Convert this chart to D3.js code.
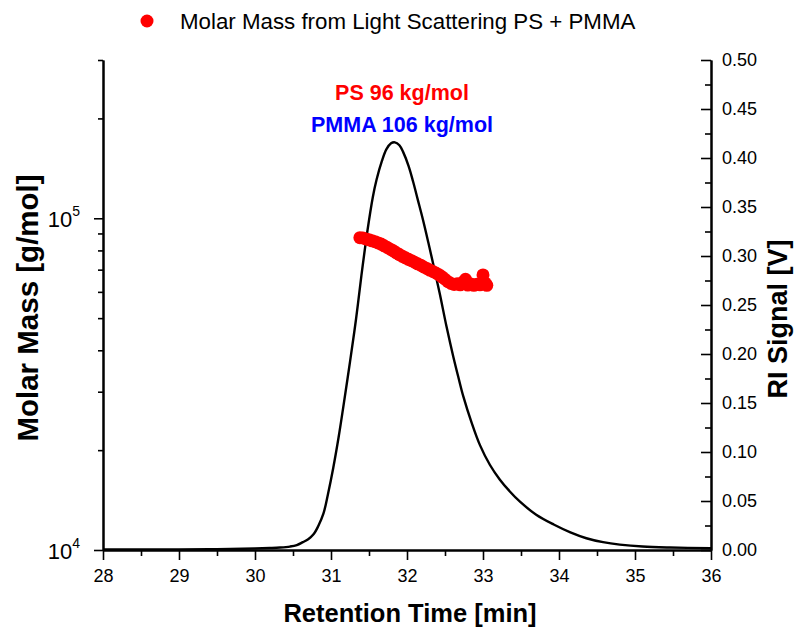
<!DOCTYPE html>
<html><head><meta charset="utf-8">
<script src="https://cdn.jsdelivr.net/npm/d3@7"></script>
<style>
html,body{margin:0;padding:0;background:#fff;}
svg{display:block;font-family:"Liberation Sans",Arial,sans-serif;}
</style></head>
<body><svg id="chart" width="794" height="632"></svg>
<script>
// ---- data ----
const riTime = [28.0,28.5,29.0,29.5,30.0,30.2,30.33,30.46,30.55,30.63,30.70,30.77,30.83,30.90,30.96,31.03,31.10,31.16,31.25,31.33,31.40,31.48,31.55,31.60,31.67,31.73,31.79,31.84,31.90,31.95,32.02,32.08,32.14,32.21,32.28,32.35,32.43,32.52,32.61,32.68,32.74,32.85,32.96,33.09,33.22,33.35,33.49,33.70,33.93,34.15,34.36,34.58,34.80,35.10,35.46,36.0];
const riSignal = [0.0005,0.0005,0.0006,0.0008,0.0015,0.002,0.0025,0.0035,0.005,0.008,0.011,0.016,0.024,0.037,0.057,0.084,0.115,0.145,0.192,0.236,0.280,0.326,0.360,0.378,0.397,0.409,0.415,0.416,0.413,0.406,0.392,0.376,0.358,0.337,0.314,0.290,0.262,0.228,0.197,0.175,0.157,0.130,0.107,0.087,0.072,0.060,0.049,0.036,0.026,0.018,0.012,0.008,0.0055,0.0035,0.0025,0.0018];
const lsTime = [31.38,31.42,31.46,31.50,31.54,31.58,31.62,31.66,31.70,31.74,31.78,31.82,31.86,31.90,31.94,31.98,32.02,32.06,32.10,32.14,32.18,32.22,32.26,32.30,32.34,32.38,32.42,32.46,32.50,32.54,32.58,32.62,32.66,32.70,32.74,32.77,32.80,32.84,32.88,32.92,32.96,33.00,33.03,33.05];
const lsMass = [87400,87200,86600,86100,85500,85000,84300,83600,82600,81700,80700,79800,78700,77700,76800,76000,75200,74500,73700,72900,72200,71300,70600,69800,69100,68400,67600,66600,65500,64400,63600,63200,63500,63000,64300,65500,62900,63400,62800,63300,63000,67500,63800,62800];
const xTicks = [28,29,30,31,32,33,34,35,36];
const xMinor = [28.5,29.5,30.5,31.5,32.5,33.5,34.5,35.5];
const leftMajor = [1e4,1e5];
const leftMinor = [2e4,3e4,4e4,5e4,6e4,7e4,8e4,9e4,2e5,3e5];
const rightTicks = [0,0.05,0.1,0.15,0.2,0.25,0.3,0.35,0.4,0.45,0.5];
const rightMinor = [0.025,0.075,0.125,0.175,0.225,0.275,0.325,0.375,0.425,0.475];
const legendLabel = "Molar Mass from Light Scattering PS + PMMA";
const noteLines = [{text:"PS 96 kg/mol", color:"#ff0000"},{text:"PMMA 106 kg/mol", color:"#0000ff"}];

// ---- layout ----
const L = 103, R = 711, T = 60, B = 550;
const svg = d3.select("#chart");
const x = d3.scaleLinear().domain([28,36]).range([L,R]);
const yL = d3.scaleLog().domain([1e4,3e5]).range([B,T]);
const yR = d3.scaleLinear().domain([0,0.5]).range([B,T]);

function styleAxis(g){
  g.selectAll("path.domain").attr("stroke","#000").attr("stroke-width",2);
  g.selectAll(".tick line").attr("stroke","#000").attr("stroke-width",1.6);
  g.selectAll(".tick text").attr("fill","#000").attr("font-size",18);
}

// bottom axis
svg.append("g").attr("transform",`translate(0,${B})`)
  .call(d3.axisBottom(x).tickValues(xMinor).tickSize(6).tickSizeOuter(0).tickFormat(""))
  .call(styleAxis);
svg.append("g").attr("transform",`translate(0,${B})`)
  .call(d3.axisBottom(x).tickValues(xTicks).tickSize(10).tickSizeOuter(0).tickPadding(9).tickFormat(d3.format("d")))
  .call(styleAxis);

// left axis
svg.append("g").attr("transform",`translate(${L},0)`)
  .call(d3.axisLeft(yL).tickValues(leftMinor).tickSize(5).tickSizeOuter(0).tickFormat(""))
  .call(styleAxis);
const gl = svg.append("g").attr("transform",`translate(${L},0)`)
  .call(d3.axisLeft(yL).tickValues(leftMajor).tickSize(9).tickSizeOuter(0).tickPadding(14).tickFormat(""))
  .call(styleAxis);
gl.selectAll(".tick").each(function(d){
  const t = d3.select(this).select("text").attr("font-size",22).attr("dy","0.38em").text(null);
  t.append("tspan").text("10");
  t.append("tspan").attr("font-size",14).attr("dy","-0.8em").text(Math.round(Math.log10(d)));
});

// right axis (ticks pointing inward)
svg.append("g").attr("transform",`translate(${R},0)`)
  .call(d3.axisRight(yR).tickValues(rightMinor).tickSize(-6).tickSizeOuter(0).tickFormat(""))
  .call(styleAxis);
svg.append("g").attr("transform",`translate(${R},0)`)
  .call(d3.axisRight(yR).tickValues(rightTicks).tickSize(-10).tickSizeOuter(0).tickPadding(11).tickFormat(d3.format(".2f")))
  .call(styleAxis);

// RI curve
const line = d3.line().x((d,i)=>x(riTime[i])).y((d,i)=>yR(riSignal[i])).curve(d3.curveCatmullRom.alpha(0.5));
svg.append("path").datum(riSignal).attr("d",line).attr("fill","none").attr("stroke","#000").attr("stroke-width",2.4).attr("stroke-linejoin","round");

// light scattering points
svg.append("g").selectAll("circle").data(lsMass).join("circle")
  .attr("cx",(d,i)=>x(lsTime[i])).attr("cy",d=>yL(d)).attr("r",6.5).attr("fill","#ff0000");

// annotations
svg.append("g").selectAll("text").data(noteLines).join("text")
  .attr("x",402).attr("y",(d,i)=>100+i*32).attr("text-anchor","middle")
  .attr("font-size",21.5).attr("font-weight","bold").attr("fill",d=>d.color).text(d=>d.text);

// legend
svg.append("circle").attr("cx",147).attr("cy",21).attr("r",6.5).attr("fill","#ff0000");
svg.append("text").attr("x",180).attr("y",29).attr("font-size",22.3).attr("fill","#000").text(legendLabel);

// axis titles
svg.append("text").attr("x",410).attr("y",622).attr("text-anchor","middle")
  .attr("font-size",25.5).attr("font-weight","bold").text("Retention Time [min]");
svg.append("text").attr("transform","translate(38,308) rotate(-90)").attr("text-anchor","middle")
  .attr("font-size",29.5).attr("font-weight","bold").text("Molar Mass [g/mol]");
svg.append("text").attr("transform","translate(787,319) rotate(-90)").attr("text-anchor","middle")
  .attr("font-size",27).attr("font-weight","bold").text("RI Signal [V]");
</script></body></html>
